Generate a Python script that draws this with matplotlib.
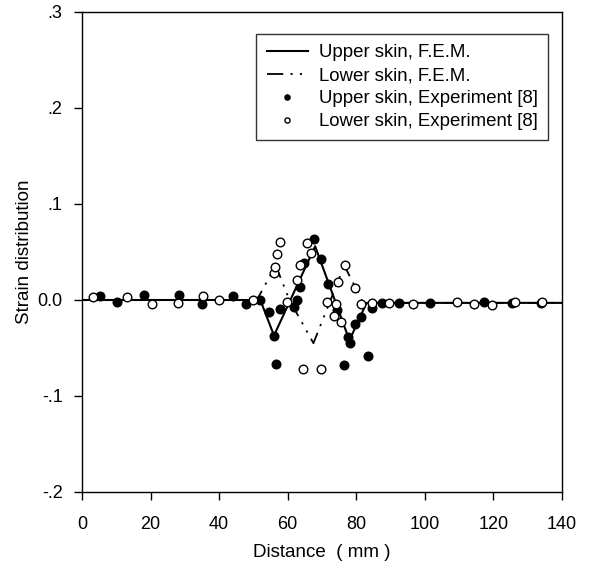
import numpy as np
import matplotlib
matplotlib.use("Agg")
import matplotlib.pyplot as plt

plt.rcParams['font.family'] = ['Liberation Sans', 'DejaVu Sans']

# F.E.M. curves
upper_fem_x = [0, 52, 56, 68, 78, 83, 140]
upper_fem_y = [0.0, 0.0, -0.037, 0.056, -0.042, -0.003, -0.003]
lower_fem_x = [0, 51, 56.5, 60.5, 67.5, 76.5, 82, 140]
lower_fem_y = [0.0, 0.0, 0.036, 0.0, -0.045, 0.036, -0.003, -0.003]

# Experiment [8], upper skin (filled)
upper_exp_x = [5.2, 10.2, 18.2, 28.3, 35.1, 44.1, 47.9, 52.0, 54.6, 55.9, 56.6,
               57.8, 61.8, 62.8, 63.7, 64.8, 67.7, 69.8, 71.7, 74.4, 76.4, 77.5,
               78.3, 79.5, 81.4, 83.4, 84.5, 87.4, 92.5, 101.4, 117.2, 125.3, 133.9]
upper_exp_y = [0.004, -0.002, 0.005, 0.005, -0.004, 0.004, -0.004, 0.0, -0.013,
               -0.037, -0.067, -0.009, -0.007, 0.0, 0.014, 0.039, 0.064, 0.043,
               0.017, -0.010, -0.068, -0.039, -0.045, -0.025, -0.018, -0.058,
               -0.008, -0.003, -0.003, -0.003, -0.002, -0.003, -0.003]

# Experiment [8], lower skin (open)
lower_exp_x = [3.1, 13.2, 20.3, 28.1, 35.3, 40.1, 50.0, 55.9, 56.4, 56.9, 57.8,
               59.7, 62.8, 63.7, 64.6, 65.7, 66.7, 69.6, 71.5, 73.5, 74.1, 74.6,
               75.6, 76.6, 79.5, 81.4, 84.5, 89.6, 96.6, 109.3, 114.3, 119.5,
               126.3, 134.2]
lower_exp_y = [0.003, 0.003, -0.004, -0.003, 0.004, 0.0, 0.0, 0.028, 0.034,
               0.048, 0.060, -0.002, 0.021, 0.036, -0.072, 0.059, 0.049, -0.072,
               -0.002, -0.017, -0.004, 0.019, -0.023, 0.036, 0.013, -0.004,
               -0.003, -0.003, -0.004, -0.002, -0.004, -0.005, -0.002, -0.002]

x_ticks = [0, 20, 40, 60, 80, 100, 120, 140]
y_ticks = [-0.2, -0.1, 0.0, 0.1, 0.2, 0.3]
y_tick_labels = ['-.2', '-.1', '0.0', '.1', '.2', '.3']

fig = plt.figure(figsize=(5.9, 5.66), dpi=100)
ax = fig.add_axes([82 / 590, 1 - 492 / 566, 480 / 590, 480 / 566])

ax.plot(upper_fem_x, upper_fem_y, color='black', lw=1.5, zorder=2,
        label='Upper skin, F.E.M.')
ax.plot(lower_fem_x, lower_fem_y, color='black', lw=1.3, zorder=2,
        dashes=(9, 4, 1.2, 4, 1.2, 4), label='Lower skin, F.E.M.')
ax.plot(upper_exp_x, upper_exp_y, 'o', ms=6.2, mfc='black', mec='black',
        mew=1.0, zorder=3, label='Upper skin, Experiment [8]')
ax.plot(lower_exp_x, lower_exp_y, 'o', ms=6.2, mfc='white', mec='black',
        mew=1.0, zorder=4, label='Lower skin, Experiment [8]')

ax.set_xlim(0, 140)
ax.set_ylim(-0.2, 0.3)
ax.set_xticks(x_ticks)
ax.set_yticks(y_ticks)
ax.set_yticklabels(y_tick_labels)
ax.tick_params(direction='out', length=6, width=1, labelsize=13,
               top=False, right=False)
ax.tick_params(axis='x', pad=11)
ax.tick_params(axis='y', pad=8)
for sp in ax.spines.values():
    sp.set_linewidth(1.0)

ax.set_xlabel('Distance  ( mm )', fontsize=13.5, labelpad=8)
ax.set_ylabel('Strain distribution', fontsize=13.5, labelpad=3)

leg = ax.legend(loc='upper right', bbox_to_anchor=(1 - 14 / 480, 1 - 22 / 480),
                borderaxespad=0, fontsize=13.4, frameon=True, fancybox=False,
                markerscale=0.6, handlelength=2.2, handletextpad=0.6,
                labelspacing=0.32, borderpad=0.55)
leg.get_frame().set_edgecolor('black')
leg.get_frame().set_linewidth(1.0)

fig.savefig('out.png', dpi=100)
